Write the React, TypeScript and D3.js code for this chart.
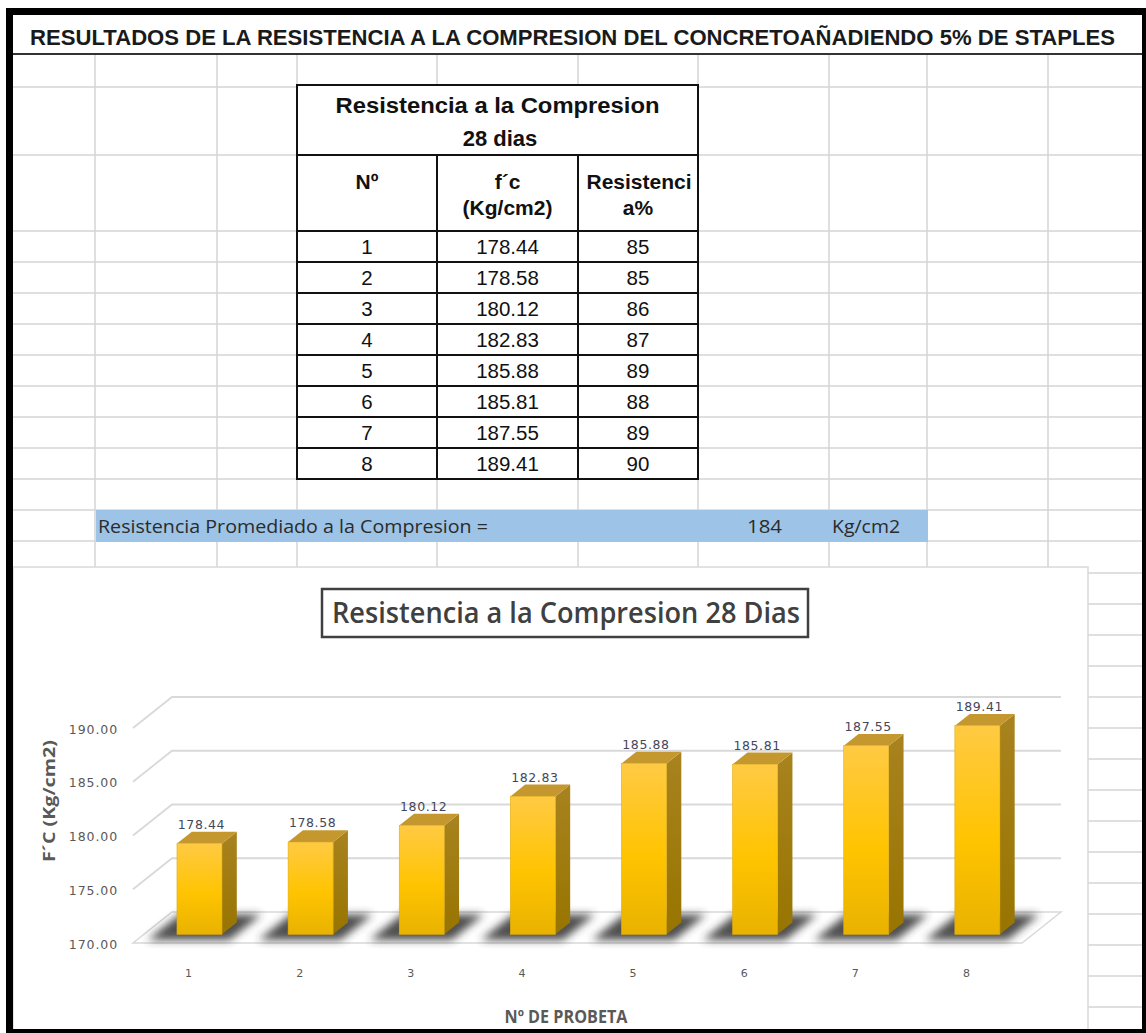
import React from 'react';
import * as d3 from 'd3';

// ---------- data ----------
const probetas = ['1', '2', '3', '4', '5', '6', '7', '8'];
const fcValues = [178.44, 178.58, 180.12, 182.83, 185.88, 185.81, 187.55, 189.41];
const resistPct = [85, 85, 86, 87, 89, 88, 89, 90];
const yTicks = [170, 175, 180, 185, 190];
const promedio = 184;

const sheetTitle = 'RESULTADOS DE LA RESISTENCIA A LA COMPRESION DEL CONCRETOAÑADIENDO 5% DE STAPLES';
const tableTitle1 = 'Resistencia a la Compresion';
const tableTitle2 = '28 dias';
const chartTitle = 'Resistencia a la Compresion 28 Dias';
const xTitle = 'Nº DE PROBETA';
const yTitle = 'F´C (Kg/cm2)';

export default function App() {
  const W = 1146;
  const H = 1033;

  // spreadsheet grid
  const colLines = [95, 217, 297, 437, 578, 698, 829, 927, 1048];
  const rowLines = d3.range(13).map((i) => (i === 0 ? 87 : i === 1 ? 155 : 231 + 31 * (i - 2)));
  const rightRows = d3.range(15).map((i) => 573 + 31 * i);

  // table geometry
  const tX = [297, 437, 578, 698];
  const tTop = 85;
  const dataTop = 231;
  const rowH = 31;
  const colCenters = [367, 507.5, 638];

  // chart scales
  const y = d3.scaleLinear().domain([170, 190]).range([912, 697]);
  const x = d3.scaleBand<string>().domain(probetas).range([172, 1061]);
  const DX = -39;
  const DY = 31;
  const fFront = 0.72;
  const fBack = 0.34;
  const barW = 45;
  const ox = DX * (fBack - fFront);
  const oy = DY * (fBack - fFront);
  const xL = x.range()[0];
  const xR = x.range()[1];
  const yFloor = y(170);

  const tickFont = "'DejaVu Sans', sans-serif";
  const calFont = "'Open Sans', 'Noto Sans', sans-serif";
  const arial = "'Liberation Sans', Arial, sans-serif";

  return (
    <svg
      width={W}
      height={H}
      style={{ position: 'absolute', left: 0, top: 0, background: '#fff' }}
      xmlns="http://www.w3.org/2000/svg"
    >
      <defs>
        <linearGradient id="gFront" x1="0" y1="0" x2="0" y2="1">
          <stop offset="0%" stopColor="#FFCA44" />
          <stop offset="55%" stopColor="#FFC400" />
          <stop offset="100%" stopColor="#E8B200" />
        </linearGradient>
        <linearGradient id="gSide" x1="0" y1="0" x2="0" y2="1">
          <stop offset="0%" stopColor="#A8831F" />
          <stop offset="100%" stopColor="#987400" />
        </linearGradient>
        <filter id="blur" x="-30%" y="-60%" width="160%" height="220%">
          <feGaussianBlur stdDeviation="4" />
        </filter>
      </defs>
      <rect x={0} y={0} width={W} height={H} fill="#fff" />

      {/* spreadsheet grid */}
      <g stroke="#d4d4d4" strokeWidth={1.5}>
        {colLines.map((c) => (
          <line key={'c' + c} x1={c} x2={c} y1={54} y2={567} />
        ))}
        {rowLines.map((r) => (
          <line key={'r' + r} x1={13} x2={1142} y1={r} y2={r} />
        ))}
        {rightRows.map((r) => (
          <line key={'rr' + r} x1={1088} x2={1142} y1={r} y2={r} />
        ))}
      </g>

      {/* title row */}
      <line x1={13} x2={1142} y1={54} y2={54} stroke="#333" strokeWidth={2} />
      <text
        x={30}
        y={45}
        fontFamily={arial}
        fontWeight="bold"
        fontSize={22}
        fill="#1a1a1a"
        textLength={1085}
        lengthAdjust="spacingAndGlyphs"
      >
        {sheetTitle}
      </text>

      {/* table */}
      <rect x={tX[0]} y={tTop} width={tX[3] - tX[0]} height={dataTop + rowH * 8 - tTop} fill="#fff" />
      <g stroke="#111" strokeWidth={2} fill="none">
        <rect x={tX[0]} y={tTop} width={tX[3] - tX[0]} height={dataTop + rowH * 8 - tTop} />
        <line x1={tX[0]} x2={tX[3]} y1={155} y2={155} />
        {d3.range(8).map((i) => (
          <line key={'tr' + i} x1={tX[0]} x2={tX[3]} y1={dataTop + rowH * i} y2={dataTop + rowH * i} />
        ))}
        <line x1={tX[1]} x2={tX[1]} y1={155} y2={dataTop + rowH * 8} />
        <line x1={tX[2]} x2={tX[2]} y1={155} y2={dataTop + rowH * 8} />
      </g>
      <g fontFamily={arial} fill="#111" textAnchor="middle">
        <text x={497.5} y={113} fontWeight="bold" fontSize={22} textLength={324} lengthAdjust="spacingAndGlyphs">
          {tableTitle1}
        </text>
        <text x={500} y={146} fontWeight="bold" fontSize={22}>
          {tableTitle2}
        </text>
        <text x={colCenters[0]} y={189} fontWeight="bold" fontSize={21}>Nº</text>
        <text x={colCenters[1]} y={189} fontWeight="bold" fontSize={21}>f´c</text>
        <text x={colCenters[1]} y={215} fontWeight="bold" fontSize={21}>(Kg/cm2)</text>
        <text x={colCenters[2] + 1} y={189} fontWeight="bold" fontSize={21}>Resistenci</text>
        <text x={colCenters[2]} y={215} fontWeight="bold" fontSize={21}>a%</text>
        {probetas.map((p, i) => (
          <g key={'row' + p} fontSize={20.5}>
            <text x={colCenters[0]} y={dataTop + rowH * i + 23}>{p}</text>
            <text x={colCenters[1]} y={dataTop + rowH * i + 23}>{fcValues[i].toFixed(2)}</text>
            <text x={colCenters[2]} y={dataTop + rowH * i + 23}>{resistPct[i]}</text>
          </g>
        ))}
      </g>

      {/* average band */}
      <rect x={96} y={510} width={832} height={32} fill="#9DC3E6" />
      <g fontFamily={calFont} fill="#2b2b2b" fontSize={18}>
        <text x={98} y={533} textLength={390} lengthAdjust="spacingAndGlyphs">
          Resistencia Promediado a la Compresion  =
        </text>
        <text x={747} y={533} textLength={35} lengthAdjust="spacingAndGlyphs">{promedio}</text>
        <text x={832} y={533} textLength={68} lengthAdjust="spacingAndGlyphs">Kg/cm2</text>
      </g>

      {/* chart box */}
      <rect x={13} y={567} width={1075} height={463} fill="#fff" stroke="#d9d9d9" strokeWidth={1.5} />

      {/* chart title */}
      <rect x={322} y={589} width={486} height={48} fill="#fff" stroke="#404040" strokeWidth={2.5} />
      <text
        x={332}
        y={623}
        fontFamily={calFont}
        fontSize={29}
        fontWeight={600}
        fill="#404040"
        textLength={468}
        lengthAdjust="spacingAndGlyphs"
      >
        {chartTitle}
      </text>

      {/* floor */}
      <polygon
        points={[
          [xL, yFloor],
          [xR, yFloor],
          [xR + DX, yFloor + DY],
          [xL + DX, yFloor + DY],
        ]
          .map((p) => p.join(','))
          .join(' ')}
        fill="#fff"
        stroke="#d9d9d9"
        strokeWidth={1.5}
      />

      {/* gridlines */}
      <g stroke="#d9d9d9" strokeWidth={1.8} fill="none">
        {yTicks
          .filter((t) => t > 170)
          .map((t) => (
            <path key={'g' + t} d={`M${xL + DX},${y(t) + DY}L${xL},${y(t)}L${xR},${y(t)}`} />
          ))}
      </g>

      {/* y tick labels */}
      <g fontFamily={tickFont} fontSize={12.5} fill="#595959" textAnchor="end" letterSpacing={0.9}>
        {yTicks.map((t) => (
          <text key={'yl' + t} x={118} y={y(t) + DY + 2} dominantBaseline="middle">
            {t.toFixed(2)}
          </text>
        ))}
      </g>

      {/* shadows */}
      <g filter="url(#blur)" fill="#2e2e2e" opacity={0.85}>
        {probetas.map((p) => {
          const c = (x(p) as number) + x.bandwidth() / 2;
          const a = c - 45;
          const b = c + 37;
          const f0 = 0.08;
          const f1 = 0.9;
          const pts = [
            [a + DX * f0, yFloor + DY * f0],
            [b + DX * f0, yFloor + DY * f0],
            [b + DX * f1, yFloor + DY * f1],
            [a + DX * f1, yFloor + DY * f1],
          ];
          return <polygon key={'s' + p} points={pts.map((q) => q.join(',')).join(' ')} />;
        })}
      </g>

      {/* bars */}
      {probetas.map((p, i) => {
        const v = fcValues[i];
        const c = (x(p) as number) + x.bandwidth() / 2 + DX * fFront;
        const x0 = c - barW / 2;
        const x1 = c + barW / 2;
        const yT = y(v) + DY * fFront;
        const yB = yFloor + DY * fFront;
        const side = [
          [x1, yT],
          [x1 + ox, yT + oy],
          [x1 + ox, yB + oy],
          [x1, yB],
        ];
        const top = [
          [x0, yT],
          [x0 + ox, yT + oy],
          [x1 + ox, yT + oy],
          [x1, yT],
        ];
        return (
          <g key={'b' + p}>
            <polygon points={side.map((q) => q.join(',')).join(' ')} fill="url(#gSide)" />
            <polygon points={top.map((q) => q.join(',')).join(' ')} fill="#C5982F" />
            <rect x={x0} y={yT} width={barW} height={yB - yT} fill="url(#gFront)" stroke="#E0AC10" strokeWidth={0.6} />
            <text
              x={c + 2}
              y={yT + oy - 3}
              textAnchor="middle"
              fontFamily={tickFont}
              fontSize={12.5}
              letterSpacing={0.6}
              fill="#44475a"
            >
              {v.toFixed(2)}
            </text>
          </g>
        );
      })}

      {/* x tick labels */}
      <g fontFamily={tickFont} fontSize={11} fill="#595959" textAnchor="middle">
        {probetas.map((p) => (
          <text key={'xl' + p} x={(x(p) as number) + x.bandwidth() / 2 + DX} y={977}>
            {p}
          </text>
        ))}
      </g>

      {/* axis titles */}
      <text
        x={566}
        y={1023}
        textAnchor="middle"
        fontFamily={calFont}
        fontWeight="bold"
        fontSize={17}
        fill="#595959"
        textLength={123}
        lengthAdjust="spacingAndGlyphs"
      >
        {xTitle}
      </text>
      <text
        transform="translate(55,801) rotate(-90)"
        textAnchor="middle"
        fontFamily={calFont}
        fontWeight="bold"
        fontSize={16}
        fill="#595959"
        textLength={122}
        lengthAdjust="spacingAndGlyphs"
      >
        {yTitle}
      </text>

      {/* black frame */}
      <g fill="#000">
        <rect x={6} y={8} width={W - 6} height={7} />
        <rect x={6} y={8} width={7} height={H - 8} />
        <rect x={1142} y={8} width={4} height={H - 8} />
        <rect x={6} y={1029} width={W - 6} height={4} />
      </g>
    </svg>
  );
}
